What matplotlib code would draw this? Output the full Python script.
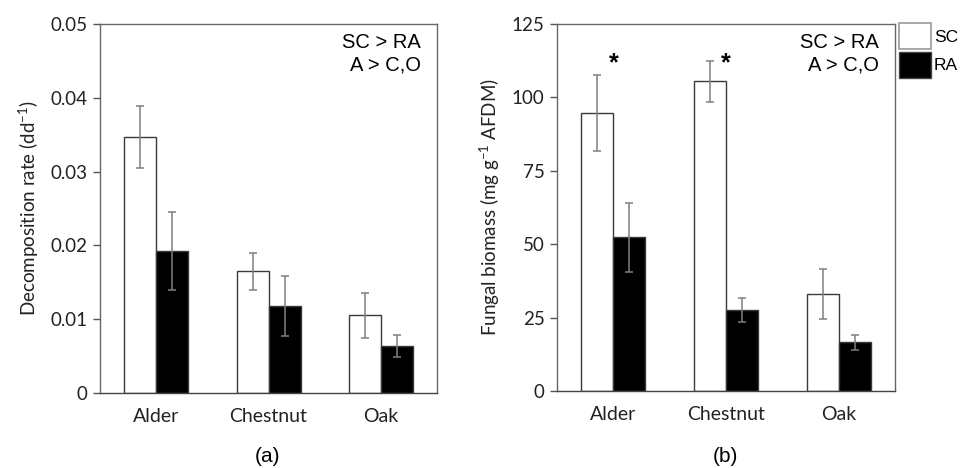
import numpy as np
import matplotlib.pyplot as plt
from matplotlib.patches import Patch

species = ["Alder", "Chestnut", "Oak"]

# panel (a) decomposition rate
decomp_sc = [0.0347, 0.0165, 0.0105]
decomp_sc_err = [0.0042, 0.0025, 0.0031]
decomp_ra = [0.0192, 0.0118, 0.0064]
decomp_ra_err = [0.0053, 0.0041, 0.0015]

# panel (b) fungal biomass
fungal_sc = [94.6, 105.5, 32.9]
fungal_sc_err = [13.0, 7.0, 8.5]
fungal_ra = [52.3, 27.6, 16.6]
fungal_ra_err = [11.8, 4.0, 2.6]

signif = ["*", "*", ""]

tick_font = "Lato"
text_font = "Liberation Sans"
edge = "#3a3a3a"
err_col = "#7f7f7f"

plt.rcParams["mathtext.fontset"] = "custom"
plt.rcParams["mathtext.rm"] = tick_font
plt.rcParams["mathtext.it"] = tick_font

fig = plt.figure(figsize=(9.62, 4.68), dpi=100)
ax_a = fig.add_axes([0.104, 0.1603, 0.3503, 0.7885])
ax_b = fig.add_axes([0.579, 0.1645, 0.3514, 0.784])

x = np.arange(len(species))
w = 0.285


def draw(ax, sc, sc_err, ra, ra_err, ymax, yticks, ylabels, ylabel):
    ax.bar(x - w / 2, sc, w, color="white", edgecolor=edge, linewidth=1.0, zorder=2)
    ax.bar(x + w / 2, ra, w, color="black", edgecolor=edge, linewidth=1.0, zorder=2)
    ax.errorbar(x - w / 2, sc, yerr=sc_err, fmt="none", ecolor=err_col,
                elinewidth=1.1, capsize=3, capthick=1.1, zorder=3)
    ax.errorbar(x + w / 2, ra, yerr=ra_err, fmt="none", ecolor=err_col,
                elinewidth=1.1, capsize=3, capthick=1.1, zorder=3)
    ax.set_xlim(-0.5, 2.5)
    ax.set_ylim(0, ymax)
    ax.set_yticks(yticks)
    ax.set_yticklabels(ylabels, fontfamily=tick_font, fontsize=13.5, color="#222222")
    ax.set_xticks(x)
    ax.set_xticklabels(species, fontfamily=tick_font, fontsize=14, color="#222222")
    ax.tick_params(axis="x", length=0, pad=11)
    ax.tick_params(axis="y", length=5, width=1, color="#555555", pad=4)
    for s in ax.spines.values():
        s.set_color("#666666")
        s.set_linewidth(1.0)
    ax.spines["bottom"].set_color("#444444")
    ax.set_ylabel(ylabel, fontfamily=tick_font, fontsize=13.5, color="#222222", labelpad=7)
    ax.text(0.952, 0.975, "SC > RA\nA > C,O", transform=ax.transAxes, ha="right",
            va="top", fontfamily=text_font, fontsize=14.5, linespacing=1.2)


draw(ax_a, decomp_sc, decomp_sc_err, decomp_ra, decomp_ra_err, 0.05,
     [0, 0.01, 0.02, 0.03, 0.04, 0.05], ["0", "0.01", "0.02", "0.03", "0.04", "0.05"],
     "Decomposition rate (dd$^{-1}$)")
draw(ax_b, fungal_sc, fungal_sc_err, fungal_ra, fungal_ra_err, 125,
     [0, 25, 50, 75, 100, 125], ["0", "25", "50", "75", "100", "125"],
     "Fungal biomass (mg g$^{-1}$ AFDM)")

# significance stars between SC and RA
for i, s in enumerate(signif):
    if s:
        ax_b.text(x[i], 107.5, s, ha="center", va="bottom", fontfamily=text_font,
                  fontsize=18, fontweight="bold")

fig.text(0.278, 0.025, "(a)", ha="center", va="center", fontfamily=text_font, fontsize=15)
fig.text(0.7545, 0.025, "(b)", ha="center", va="center", fontfamily=text_font, fontsize=15)

handles = [Patch(facecolor="white", edgecolor="#999999", linewidth=1.2, label="SC"),
           Patch(facecolor="black", edgecolor="#444444", linewidth=1.0, label="RA")]
fig.legend(handles=handles, loc="upper left", bbox_to_anchor=(0.934, 0.951),
           frameon=False, handlelength=1.85, handleheight=1.95, handletextpad=0.2,
           labelspacing=0.15, borderpad=0, borderaxespad=0,
           prop={"family": text_font, "size": 12.5})

fig.savefig("out.png", dpi=100)
